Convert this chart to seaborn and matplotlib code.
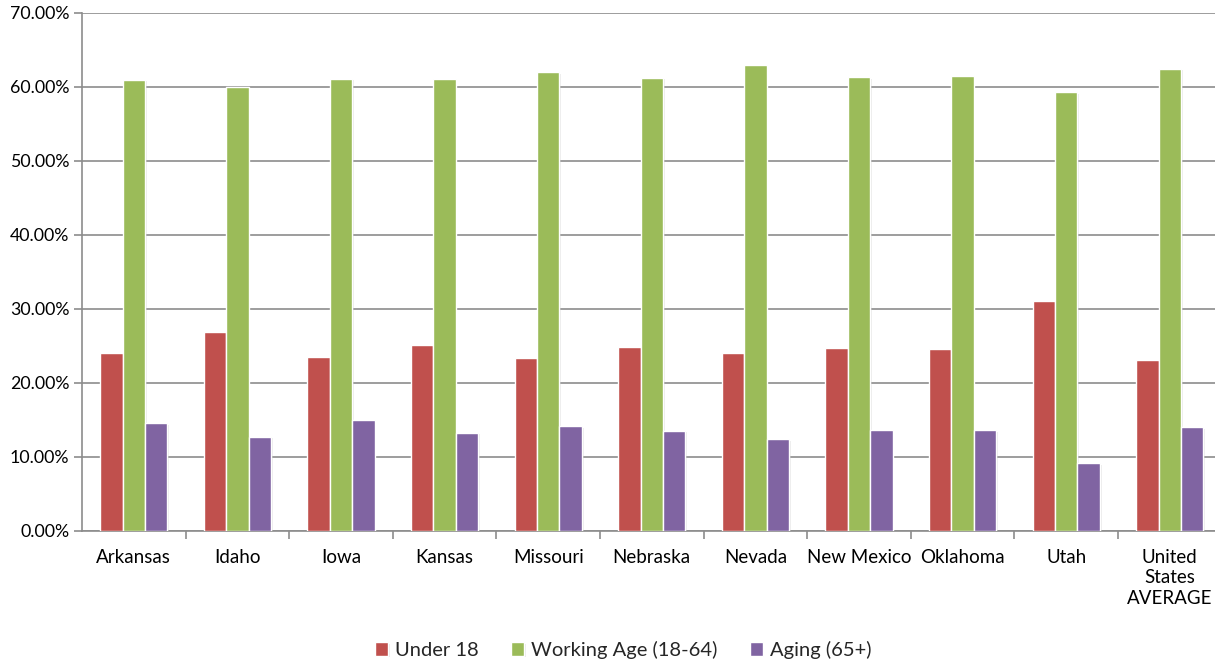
import matplotlib
matplotlib.use("Agg")
import matplotlib.pyplot as plt
import matplotlib.patheffects as pe
from matplotlib.ticker import PercentFormatter, FixedLocator, NullFormatter
import numpy as np
import pandas as pd
import seaborn as sns

# Population share by age group, per state
states = ["Arkansas", "Idaho", "Iowa", "Kansas", "Missouri", "Nebraska",
          "Nevada", "New Mexico", "Oklahoma", "Utah", "United\nStates\nAVERAGE"]
under_18 = [0.2405, 0.268, 0.235, 0.2505, 0.233, 0.248, 0.2405, 0.2465, 0.245, 0.311, 0.2305]
working_age = [0.6095, 0.600, 0.611, 0.611, 0.620, 0.612, 0.630, 0.613, 0.6145, 0.593, 0.6245]
aging = [0.145, 0.127, 0.149, 0.1325, 0.1415, 0.135, 0.124, 0.1355, 0.1355, 0.091, 0.1395]

groups = ["Under 18", "Working Age (18-64)", "Aging (65+)"]
colors = ["#C0504D", "#9BBB59", "#8064A2"]

df = pd.DataFrame({
    "state": states * 3,
    "group": [groups[0]] * len(states) + [groups[1]] * len(states) + [groups[2]] * len(states),
    "share": under_18 + working_age + aging,
})

sns.set_theme(style="white")
plt.rcParams["font.family"] = ["Lato", "DejaVu Sans"]

W, H = 1215, 664
fig = plt.figure(figsize=(W / 100, H / 100), dpi=100)
left, right = 82, 1221.6
top, bottom = 12.7, 530.7
ax = fig.add_axes([left / W, 1 - bottom / H, (right - left) / W, (bottom - top) / H])

sns.barplot(data=df, x="state", y="share", hue="group", order=states,
            hue_order=groups, palette=colors, width=0.65, saturation=1,
            edgecolor="white", linewidth=1.0, ax=ax, legend=True, zorder=3)

for p in ax.patches:
    p.set_path_effects([pe.SimplePatchShadow(offset=(1.2, -1.2), shadow_rgbFace="#BBBBBB", alpha=0.3),
                        pe.Normal()])

grid_color = "#8C8C8C"
ax.set_ylim(0, 0.70)
ax.set_xlim(-0.5, len(states) - 0.5)
ax.yaxis.set_major_locator(FixedLocator(np.arange(0, 0.701, 0.10)))
ax.yaxis.set_major_formatter(PercentFormatter(xmax=1, decimals=2))
ax.grid(axis="y", color=grid_color, linewidth=1.2, zorder=0)
ax.set_axisbelow(True)

for side in ["top", "right"]:
    ax.spines[side].set_visible(False)
for side in ["left", "bottom"]:
    ax.spines[side].set_color(grid_color)
    ax.spines[side].set_linewidth(1.2)

ax.tick_params(axis="y", which="major", length=6, width=1.2, color=grid_color,
               direction="out", labelsize=12.8, labelcolor="#000000", pad=3, left=True)
ax.tick_params(axis="x", which="major", length=0, labelsize=13.5, labelcolor="#000000", pad=13)
ax.xaxis.set_minor_locator(FixedLocator(np.arange(0.5, len(states) - 0.5, 1.0)))
ax.xaxis.set_minor_formatter(NullFormatter())
ax.tick_params(axis="x", which="minor", length=6, width=1.2, color=grid_color,
               direction="out", bottom=True)
for lbl in ax.get_xticklabels():
    lbl.set_linespacing(1.25)
ax.set_xlabel("")
ax.set_ylabel("")

handles, labels = ax.get_legend_handles_labels()
ax.legend_.remove()
fig.legend(handles, labels, loc="center", bbox_to_anchor=(623 / W, 1 - 650 / H),
           ncol=3, frameon=False, fontsize=14.5, handlelength=0.65, handleheight=0.65,
           handletextpad=0.35, columnspacing=1.6)

fig.savefig("out.png", dpi=100)
